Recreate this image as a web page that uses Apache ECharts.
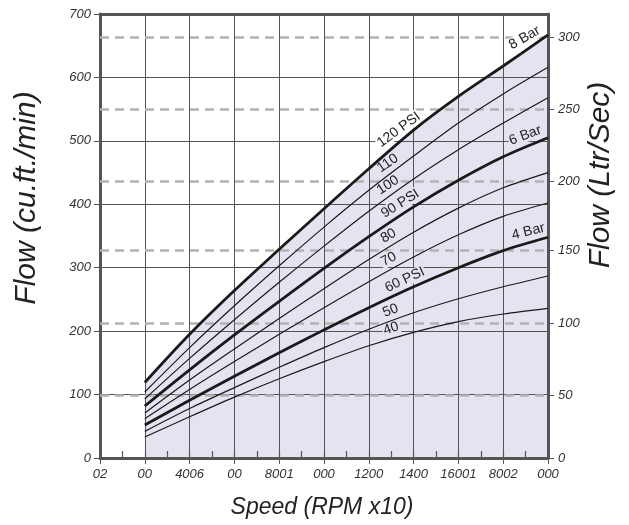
<!DOCTYPE html>
<html>
<head>
<meta charset="utf-8">
<script src="https://cdn.jsdelivr.net/npm/echarts@6/dist/echarts.min.js"></script>
<style>
  html, body { margin: 0; padding: 0; background: #fff; }
  #chart { width: 629px; height: 525px; }
</style>
</head>
<body>
<div id="chart"></div>
<script>
// tick labels along the speed axis, as printed
var speedLabels = ['02', '00', '4006', '00', '8001', '000', '1200', '1400', '16001', '8002', '000'];
var speedPos = [1, 2, 3, 4, 5, 6, 7, 8, 9, 10];

// flow in cu.ft./min
var flow120 = [119, 195, 264, 329, 393, 456, 517, 570, 618, 667];
var flow110 = [104, 174, 240, 303, 364, 422, 476, 528, 574, 616];
var flow100 = [93, 157, 218, 277, 334, 389, 440, 486, 528, 568];
var flow90 = [82, 139, 194, 247, 299, 349, 396, 438, 475, 505];
var flow80 = [71, 123, 172, 220, 267, 313, 356, 394, 426, 450];
var flow70 = [62, 108, 152, 195, 237, 278, 317, 352, 381, 402];
var flow60 = [52, 91, 129, 166, 202, 237, 270, 300, 327, 348];
var flow50 = [42, 78, 111, 143, 174, 203, 229, 251, 270, 287];
var flow40 = [33, 65, 96, 125, 152, 177, 198, 215, 227, 236];

// right hand scale (Ltr/Sec) and where its ticks sit on the cu.ft./min scale
var lpsLabels = ['0', '50', '100', '150', '200', '250', '300'];
var lpsAtCfm = [0, 99, 213, 328, 436, 550, 663];

var curves = [
  {name: '120 PSI', data: flow120, thick: true, bar: '8 Bar'},
  {name: '110', data: flow110},
  {name: '100', data: flow100},
  {name: '90 PSI', data: flow90, thick: true, bar: '6 Bar'},
  {name: '80', data: flow80},
  {name: '70', data: flow70},
  {name: '60 PSI', data: flow60, thick: true, bar: '4 Bar'},
  {name: '50', data: flow50},
  {name: '40', data: flow40}
];

// where the curve names sit (x position, angle, lift) - layout only
var labelLayout = {
  '120 PSI': [6.8, 36, -10], '110': [6.55, 35, -10], '100': [6.55, 33, -10],
  '90 PSI': [6.82, 32, -10], '80': [6.55, 30, -10], '70': [6.55, 28, -10],
  '60 PSI': [6.9, 25, -10], '50': [6.57, 22, -10], '40': [6.57, 19, -10]
};
var barLayout = {'8 Bar': [9.6, 30, -11], '6 Bar': [9.58, 21, -11], '4 Bar': [9.62, 14, -11]};

var FILL = '#e4e4f0';
var INK = '#555';
var FONT = 'Liberation Sans, Arial, sans-serif';

function pairs(arr) {
  return arr.map(function (v, i) { return [speedPos[i], v]; });
}
function valueAt(arr, x) {
  var i = Math.floor(x) - 1;
  var f = x - Math.floor(x);
  if (i >= arr.length - 1) return arr[arr.length - 1];
  return arr[i] + f * (arr[i + 1] - arr[i]);
}
function curveMark(text, arr, lay, bg) {
  return {
    coord: [lay[0], valueAt(arr, lay[0])],
    label: {
      show: true, position: 'inside', formatter: text, rotate: lay[1], offset: [0, lay[2]],
      color: '#222', fontSize: 14, lineHeight: 14, fontFamily: FONT,
      backgroundColor: bg, padding: [0, 1]
    }
  };
}

var tickFont = {color: '#333', fontSize: 13, fontStyle: 'italic', fontFamily: FONT};

var series = [{
  name: 'fill', type: 'line', data: pairs(flow120), smooth: 0.3, symbol: 'none',
  lineStyle: {width: 0}, areaStyle: {color: FILL, opacity: 1}, z: 1, silent: true,
  markLine: {
    silent: true, symbol: 'none', label: {show: false}, z: 3,
    lineStyle: {color: '#b3b3b3', width: 2.5, type: [9, 6]},
    data: lpsAtCfm.slice(1).map(function (v) { return {yAxis: v}; })
  }
}];

curves.forEach(function (c) {
  var marks = [curveMark(c.name, c.data, labelLayout[c.name], c.name === '120 PSI' ? '#fff' : FILL)];
  if (c.bar) marks.push(curveMark(c.bar, c.data, barLayout[c.bar], c.bar === '8 Bar' ? '#fff' : FILL));
  series.push({
    name: c.name, type: 'line', data: pairs(c.data), smooth: 0.3, symbol: 'none', z: 4,
    lineStyle: {color: '#1a1a1a', width: c.thick ? 2.8 : 1.2},
    markPoint: {symbol: 'circle', symbolSize: 0, silent: true, z: 3, data: marks}
  });
});

// half-step ticks on the bottom edge, pointing up (second grid laid over the first)
series.push({type: 'line', xAxisIndex: 2, yAxisIndex: 2, data: [[0, 0]], symbol: 'none', lineStyle: {width: 0}, silent: true});

var option = {
  animation: false,
  grid: [
    {left: 100, right: 81, top: 14, bottom: 67},
    {left: 100, right: 81, top: 14, bottom: 67}
  ],
  xAxis: [{
    type: 'value', gridIndex: 0, min: 0, max: 10, interval: 1, position: 'bottom', z: 2,
    axisLine: {show: true, onZero: false, lineStyle: {color: INK, width: 3}},
    axisTick: {show: true, length: 6, lineStyle: {color: INK, width: 1}},
    axisLabel: Object.assign({margin: 10, formatter: function (v) { return speedLabels[v]; }}, tickFont),
    splitLine: {show: true, lineStyle: {color: INK, width: 1}}
  }, {
    type: 'value', gridIndex: 0, min: 0, max: 10, interval: 1, position: 'top', z: 2,
    axisLine: {show: true, onZero: false, lineStyle: {color: INK, width: 3}},
    axisTick: {show: false}, axisLabel: {show: false}, splitLine: {show: false}
  }, {
    type: 'value', gridIndex: 1, min: 0, max: 10, interval: 0.5, position: 'bottom', z: 5,
    axisLine: {show: false, onZero: false}, axisLabel: {show: false}, splitLine: {show: false},
    axisTick: {show: true, inside: true, length: 7, lineStyle: {color: INK, width: 1.2}}
  }],
  yAxis: [{
    type: 'value', gridIndex: 0, min: 0, max: 700, interval: 100, position: 'left', z: 2,
    axisLine: {show: true, onZero: false, lineStyle: {color: INK, width: 3}},
    axisTick: {show: true, length: 6, lineStyle: {color: INK, width: 1}},
    axisLabel: Object.assign({margin: 9}, tickFont),
    splitLine: {show: true, lineStyle: {color: INK, width: 1}}
  }, {
    type: 'value', gridIndex: 0, min: 0, max: 700, position: 'right', z: 2,
    axisLine: {show: true, onZero: false, lineStyle: {color: INK, width: 3}},
    axisTick: {show: true, length: 6, customValues: lpsAtCfm, lineStyle: {color: INK, width: 1}},
    axisLabel: Object.assign({
      margin: 10, customValues: lpsAtCfm,
      formatter: function (v) { return lpsLabels[lpsAtCfm.indexOf(v)]; }
    }, tickFont),
    splitLine: {show: false}
  }, {
    type: 'value', gridIndex: 1, min: 0, max: 700, position: 'left',
    axisLine: {show: false}, axisTick: {show: false}, axisLabel: {show: false}, splitLine: {show: false}
  }],
  graphic: [{
    type: 'text', x: 27, y: 198, rotation: Math.PI / 2,
    style: {text: 'Flow (cu.ft./min)', fill: '#222', font: 'italic 30px ' + FONT, align: 'center', verticalAlign: 'middle'}
  }, {
    type: 'text', x: 601, y: 175, rotation: Math.PI / 2,
    style: {text: 'Flow (Ltr/Sec)', fill: '#222', font: 'italic 30px ' + FONT, align: 'center', verticalAlign: 'middle'}
  }, {
    type: 'text', x: 322, y: 508,
    style: {text: 'Speed (RPM x10)', fill: '#222', font: 'italic 23px ' + FONT, align: 'center', verticalAlign: 'middle'}
  }],
  series: series
};

var dom = document.getElementById('chart');
var myChart = echarts.init(dom);
myChart.setOption(option);
</script>
</body>
</html>
